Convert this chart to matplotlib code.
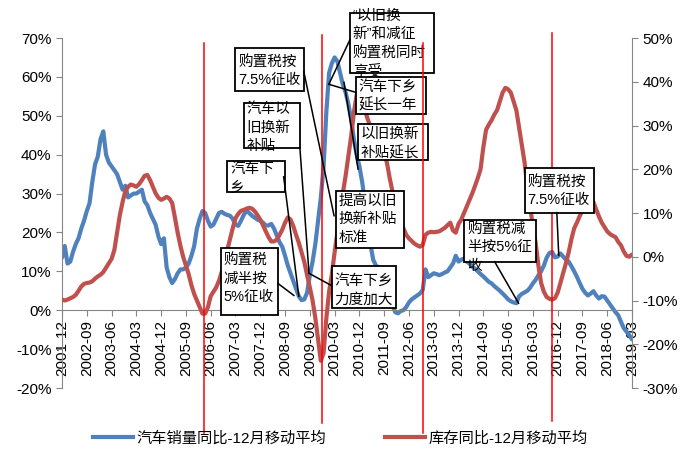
import matplotlib
matplotlib.use('Agg')
import matplotlib.pyplot as plt
from matplotlib.patches import Rectangle
from matplotlib.lines import Line2D
import numpy as np
import pandas as pd

plt.rcParams['font.family'] = ['Liberation Sans', 'Noto Sans CJK SC']
plt.rcParams['axes.unicode_minus'] = False

months = pd.period_range('2001-12', '2019-03', freq='M')

tick_labels = ['2001-12', '2002-09', '2003-06', '2004-03', '2004-12', '2005-09',
               '2006-06', '2007-03', '2007-12', '2008-09', '2009-06', '2010-03',
               '2010-12', '2011-09', '2012-06', '2013-03', '2013-12', '2014-09',
               '2015-06', '2016-03', '2016-12', '2017-09', '2018-06', '2019-03']

# 汽车销量同比, 12月移动平均 (%), left axis
sales_yoy = [
    13.5, 16.5, 12, 12.5, 15, 17, 18.5, 21, 23, 25.5, 27.5, 33,
    37.5, 39.5, 44, 46, 40, 38, 37, 36, 35, 33, 31, 32,
    29, 29.5, 30, 30, 30.5, 31, 28, 27, 25, 23.5, 22, 19,
    17, 18.5, 11, 8.5, 7, 8, 9.5, 10.5, 10.5, 11, 12, 14,
    16.5, 21, 23.5, 25.5, 25, 23, 21.5, 22, 23.5, 25, 25.3, 24.8,
    24.5, 24.3, 23.5, 22, 21.7, 23, 24.5, 25.6, 25, 24.3, 23.8, 23.3,
    23, 22.5, 21.8, 21.8, 22.2, 21, 19.2, 17.5, 16.3, 14, 11.5, 9.5,
    7.5, 5.5, 3.6, 2.6, 2.8, 4.5, 9, 12.5, 17, 23, 29, 37,
    51, 61, 63.5, 65, 64, 61, 58, 56, 53, 49, 44, 40,
    37, 33, 28, 24, 17, 13, 11.5, 11, 10.5, 9.5, 8.5, 5.5,
    1.5, -0.5, -0.8, -0.2, 0, 0.8, 2, 2.8, 3.3, 3.8, 4.3, 5.2,
    10.5, 8.5, 9, 9.5, 9.3, 9, 9.3, 9.7, 10, 11, 12, 14,
    12.5, 13, 13.3, 12.5, 12, 11.2, 10.7, 10, 9.3, 8.7, 8, 7.3,
    6.9, 6.2, 5.6, 5, 4.3, 3.6, 2.8, 2.3, 2, 1.8, 3.6, 4.2,
    4.6, 5, 5.8, 6.9, 7.8, 9, 10, 11.5, 13.5, 14.7, 15, 13.6,
    13.8, 14.6, 13.8, 13, 12.5, 11.3, 10, 8.6, 7, 5.5, 4.5, 3.8,
    4.3, 4.9, 3.8, 3, 3.6, 3.5, 2.5, 1.5, 0.5, -0.5, -1.3, -3,
    -4.6, -5.5, -6.4, -7.5]

# 库存同比, 12月移动平均 (%), right axis
stock_yoy = [
    -9.8, -10, -9.8, -9.5, -9.2, -8.7, -7.8, -6.8, -6.2, -6, -5.9, -5.6,
    -5, -4.5, -4.1, -3.5, -2.5, -1.5, -0.5, 1.5, 5.5, 9.5, 12.5, 15,
    16, 16.5, 16.3, 16, 16.6, 17.5, 18.5, 18.7, 17.5, 16, 14.5, 13.5,
    13, 13.3, 13.7, 13.3, 12.3, 9, 5.5, 2.5, 0, -2, -4, -6.5,
    -8.5, -10, -11.5, -13, -13, -11.5, -9, -8, -7, -5.5, -3.5, -1,
    1.5, 4, 6.5, 8.8, 9.8, 10.5, 10.7, 11, 11.2, 11, 10.4, 9.5,
    8.5, 7.2, 5.8, 4.5, 3.5, 3.5, 3.9, 5, 6.2, 7.8, 9, 8.5,
    7, 5, 3.2, 1, -1.2, -4.2, -7, -10, -14, -19, -23.8, -22,
    -14, -8, -4, 1, 5.5, 10.5, 14.6, 18.5, 23, 27.5, 33, 37,
    38, 35.5, 33.5, 31.5, 29.7, 28.5, 27, 26, 25, 23.5, 21.5, 18,
    15, 12.5, 9.5, 7.5, 6.5, 5, 4.2, 3.6, 3, 2.6, 2.3, 2.7,
    5, 5.5, 5.7, 5.6, 5.7, 5.8, 6.2, 6.6, 7.2, 7.8, 6, 5.5,
    7.5, 8.5, 10, 11.5, 13, 14.5, 16.2, 18, 20, 25, 29, 30.2,
    31.2, 32.5, 33.5, 35.5, 37.5, 38.6, 38.3, 37.5, 35.5, 33.5, 29.5, 25.5,
    21.5, 16, 11.5, 7, 3.2, -2, -6, -8, -9.2, -9.6, -9.8, -9.5,
    -8.2, -6, -3.7, -1.5, 1, 4, 6.5, 7.8, 9.3, 10.5, 11.6, 12.8,
    13.5, 12.5, 10.8, 9.2, 7.8, 6.8, 5.8, 5.2, 4.8, 4.5, 3.4, 2.6,
    1.2, 0.2, 0, 0.5]

# policy dates (month index) marked with red vertical lines
policy_x = [51.7, 94.6, 131.1, 177.8]

blue = '#4F81BD'
red = '#C0504D'
grey = '#868686'

x = np.arange(len(months))

fig = plt.figure(figsize=(6.86, 4.53), dpi=100)
ax = fig.add_axes([62 / 686, 1 - 388 / 453, 570 / 686, 350 / 453])
ax2 = ax.twinx()

# put the category axis on the 0% line first (this resets the ticks)
ax.spines['bottom'].set_position(('data', 0))

ax.plot(x, sales_yoy, color=blue, lw=3, solid_joinstyle='round', solid_capstyle='round')
ax2.plot(x, stock_yoy, color=red, lw=3, solid_joinstyle='round', solid_capstyle='round')

ax.set_xlim(0, len(x) - 1)
ax.set_ylim(-20, 70)
ax2.set_ylim(-30, 50)
ax.set_yticks(range(-20, 71, 10))
ax2.set_yticks(range(-30, 51, 10))
ax.set_yticklabels([f'{v}%' for v in range(-20, 71, 10)])
ax2.set_yticklabels([f'{v}%' for v in range(-30, 51, 10)])
ax.set_xticks(x[::9])
ax.set_xticklabels(tick_labels)

for a in (ax, ax2):
    for s in a.spines.values():
        s.set_color(grey)
        s.set_linewidth(0.8)
    a.spines['top'].set_visible(False)
    a.tick_params(colors=grey, labelcolor='black', labelsize=11, length=4, width=0.8)
ax.spines['right'].set_visible(False)
ax2.spines['left'].set_visible(False)
ax2.spines['bottom'].set_visible(False)
ax.tick_params(axis='x', pad=3, labelrotation=90)

# red vertical policy lines (in left-axis units, running past the plot)
line_ends = [(68.8, -31.5), (70.8, -28.9), (68.8, -31.5), (71.4, -28.6)]
for px, (top, bot), z in zip(policy_x, line_ends, [4, 4, 7, 4]):
    ax2.plot([px, px], [top, bot], color='#FF0000', lw=1.1, transform=ax.transData,
             clip_on=False, zorder=z)

# callout boxes: (x0, x1, top, bottom, first line offset px, lines)
boxes = [
    (57.6, 78.4, 15.9, -1.3, 12, ['购置税', '减半按', '5%征收']),
    (60.1, 80.9, 38.4, 30.4, 8, ['汽车下', '乡']),
    (66.0, 86.4, 53.2, 41.7, 6, ['汽车以', '旧换新', '补贴']),
    (63.0, 87.8, 67.5, 56.3, 14, ['购置税按', '7.5%征收']),
    (104.6, 135.2, 76.5, 61.1, 3, ['“以旧换', '新”和减征', '购置税同时', '享受']),
    (106.8, 132.3, 60.1, 50.4, 10, ['汽车下乡', '延长一年']),
    (107.5, 133.0, 47.8, 38.6, 10, ['以旧换新', '补贴延长']),
    (99.5, 124.3, 30.7, 16.1, 10, ['提高以旧', '换新补贴', '标准']),
    (98.0, 121.4, 11.3, 0.5, 15, ['汽车下乡', '力度加大']),
    (146.1, 172.0, 23.3, 12.5, 9, ['购置税减', '半按5%征', '收']),
    (168.0, 193.1, 36.6, 25.1, 14, ['购置税按', '7.5%征收']),
]
for x0, x1, top, bot, off, lines in boxes:
    ax2.add_patch(Rectangle((x0, bot), x1 - x0, top - bot, transform=ax.transData,
                            facecolor='white', edgecolor='black', lw=1.3,
                            clip_on=False, zorder=5))
    for k, t in enumerate(lines):
        ax2.annotate(t, xy=(x0, top), xycoords=ax.transData,
                     xytext=(2, -(off + k * 18.5) * 0.72), textcoords='offset points',
                     va='center', ha='left', fontsize=10.5, zorder=6,
                     annotation_clip=False)

# connector lines
connectors = [
    ((78.4, 6.9), (84.2, 3.8)),
    ((80.5, 34.3), (86.0, 3.6)),
    ((86.4, 41.7), (89.7, 9.5)),
    ((87.8, 61.4), (98.8, 24.3)),
    ((104.6, 69.6), (96.9, 58.1)),
    ((96.9, 58.1), (106.8, 56.0)),
    ((102.4, 58.6), (107.5, 36.3)),
    ((89.7, 9.5), (97.7, 6.4)),
    ((157.1, 12.5), (165.8, 1.8)),
    ((179.7, 25.1), (180.4, 14.1)),
]
for (xa, ya), (xb, yb) in connectors:
    ax2.plot([xa, xb], [ya, yb], color='black', lw=1.1, transform=ax.transData,
             clip_on=False, zorder=5)

handles = [Line2D([], [], color=blue, lw=3), Line2D([], [], color=red, lw=3)]
fig.legend(handles, ['汽车销量同比-12月移动平均', '库存同比-12月移动平均'],
           loc='center', bbox_to_anchor=(0.496, 0.033), ncol=2, frameon=False,
           fontsize=11, handlelength=2.6, handletextpad=0.2, columnspacing=3.9)

fig.savefig('out.png', dpi=100)
